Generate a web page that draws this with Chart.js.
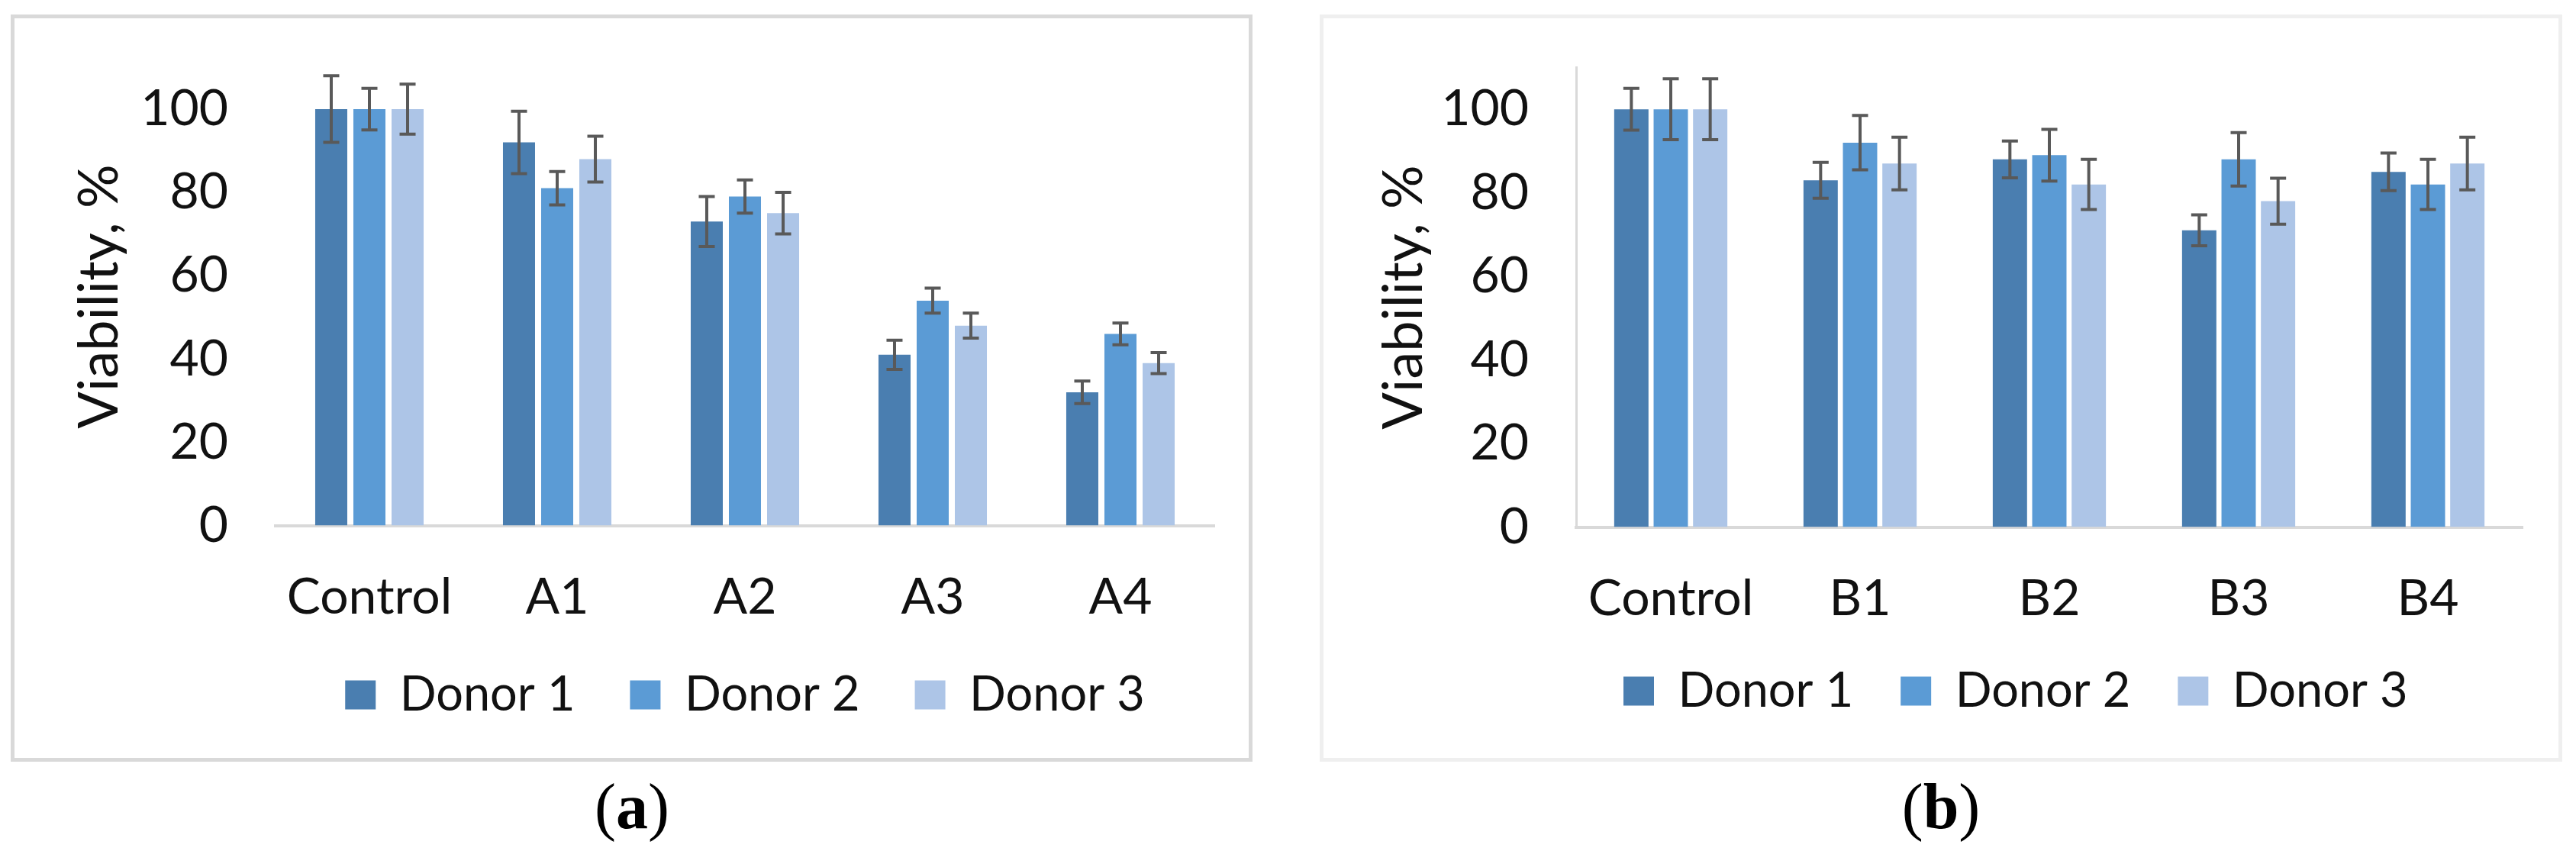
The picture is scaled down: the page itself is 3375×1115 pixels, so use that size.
<!DOCTYPE html>
<html>
<head>
<meta charset="utf-8">
<script src="https://cdn.jsdelivr.net/npm/chart.js@4.4.1/dist/chart.umd.min.js"></script>
<style>
  html, body { margin:0; padding:0; background:#fff; width:3375px; height:1115px; overflow:hidden; }
  .panel { position:absolute; box-sizing:border-box; }
  #boxA { left:14px; top:19px; width:1627px; height:979px; border:5px solid #d9d9d9; }
  #boxB { left:1729px; top:19px; width:1628px; height:979px; border:5px solid #efefef; }
  .panel canvas { position:absolute; left:0; top:0; }
  .cap { position:absolute; top:1015px; width:200px; text-align:center;
         font:84px "Liberation Serif", serif; line-height:84px; color:#000; }
</style>
</head>
<body>
<div class="panel" id="boxA"><canvas id="chartA" width="1617" height="969"></canvas></div>
<div class="panel" id="boxB"><canvas id="chartB" width="1618" height="969"></canvas></div>
<div class="cap" style="left:728px">(<b>a</b>)</div>
<div class="cap" style="left:2443px">(<b>b</b>)</div>

<script>
// ---- data ----
const categoriesA = ["Control", "A1", "A2", "A3", "A4"];
const categoriesB = ["Control", "B1", "B2", "B3", "B4"];
const donorLabels = ["Donor 1", "Donor 2", "Donor 3"];

const donor1A = [100, 92, 73, 41, 32];
const donor2A = [100, 81, 79, 54, 46];
const donor3A = [100, 88, 75, 48, 39];
const donor1AErr = [8, 7.5, 6, 3.5, 2.7];
const donor2AErr = [5, 4, 4, 3, 2.6];
const donor3AErr = [6, 5.5, 5, 3, 2.5];

const donor1B = [100, 83, 88, 71, 85];
const donor2B = [100, 92, 89, 88, 82];
const donor3B = [100, 87, 82, 78, 87];
const donor1BErr = [5, 4.3, 4.4, 3.7, 4.5];
const donor2BErr = [7.3, 6.5, 6.2, 6.4, 6];
const donor3BErr = [7.3, 6.3, 6, 5.5, 6.3];

const yMin = 0, yMax = 110, yStep = 20;
const yTitle = "Viability, %";

const donorColors = ["#4a7eb0", "#5b9bd5", "#adc5e7"];
const textColor = "#111";
const axisColor = "#d9d9d9";

// error bars drawn through the y scale and the bar elements
const errorBars = {
  id:"errorBars",
  afterDatasetsDraw(chart, args, opts) {
    const { ctx } = chart;
    const y = chart.scales.y;
    ctx.save();
    ctx.strokeStyle = opts.color;
    ctx.lineWidth = opts.width;
    chart.data.datasets.forEach((ds, i) => {
      chart.getDatasetMeta(i).data.forEach((bar, j) => {
        const v = ds.data[j], e = ds.errors[j];
        const top = y.getPixelForValue(v + e);
        const bot = y.getPixelForValue(v - e);
        const x = bar.x, h = opts.cap / 2;
        ctx.beginPath();
        ctx.moveTo(x, top); ctx.lineTo(x, bot);
        ctx.moveTo(x - h, top); ctx.lineTo(x + h, top);
        ctx.moveTo(x - h, bot); ctx.lineTo(x + h, bot);
        ctx.stroke();
      });
    });
    ctx.restore();
  }
};

function makeChart(id, labels, series, errs, o) {
  return new Chart(document.getElementById(id), {
    type:"bar",
    data:{
      labels,
      datasets:series.map((s, i) => ({
        label:donorLabels[i],
        data:s,
        errors:errs[i],
        backgroundColor:donorColors[i],
        borderWidth:0,
        categoryPercentage:o.catPct,
        barPercentage:o.barPct
      }))
    },
    options:{
      responsive:false,
      animation:false,
      devicePixelRatio:1,
      layout:{ padding:o.padding },
      plugins:{
        legend:{
          position:"bottom",
          fullSize:false,
          align:o.legendAlign,
          labels:{
            color:textColor,
            boxWidth:40,
            boxHeight:38,
            padding:o.legendPad,
            font:{ size:63 }
          }
        },
        tooltip:{ enabled:false },
        errorBars:{ color:"#595959", width:4, cap:21 }
      },
      scales:{
        x:{
          grid:{ display:false, drawTicks:false },
          border:{ display:true, color:axisColor, width:4 },
          ticks:{ color:textColor, padding:55, font:{ size:66 } },
          afterFit(scale) {
            scale.height = o.xHeight;
            scale.paddingLeft = 0;
            scale.paddingRight = 0;
          }
        },
        y:{
          min:yMin,
          max:yMax,
          grid:{ display:false, drawTicks:false },
          border:{ display:o.yBorder, color:axisColor, width:3 },
          ticks:{
            stepSize:yStep,
            includeBounds:false,
            color:textColor,
            padding:62,
            font:{ size:66 }
          },
          title:{
            display:true,
            text:yTitle,
            color:textColor,
            font:{ size:72 },
            padding:{ top:o.titlePad, bottom:0 }
          },
          afterFit(scale) {
            scale.width = o.yWidth;
            scale.paddingTop = 0;
            scale.paddingBottom = 0;
          }
        }
      }
    },
    plugins:[errorBars]
  });
}

function draw() {
  Chart.defaults.font.family = "Lato, 'Open Sans', sans-serif";

  makeChart("chartA", categoriesA,
    [donor1A, donor2A, donor3A],
    [donor1AErr, donor2AErr, donor3AErr],
    {
      padding:{ top:64.4, right:45, bottom:41, left:0 },
      yWidth:342, xHeight:118.5, titlePad:69,
      legendAlign:"center", legendPad:72,
      catPct:0.61, barPct:0.84, yBorder:false
    });

  makeChart("chartB", categoriesB,
    [donor1B, donor2B, donor3B],
    [donor1BErr, donor2BErr, donor3BErr],
    {
      padding:{ top:64.4, right:47, bottom:46, left:0 },
      yWidth:331, xHeight:121.5, titlePad:63,
      legendAlign:"start", legendPad:62,
      catPct:0.625, barPct:0.87, yBorder:true
    });
}

if (document.fonts && document.fonts.load) {
  Promise.all([
    document.fonts.load("62px Lato"),
    document.fonts.load("84px 'Liberation Serif'")
  ]).then(draw, draw);
} else {
  draw();
}
</script>
</body>
</html>
